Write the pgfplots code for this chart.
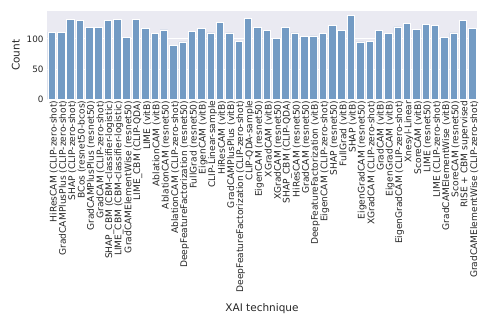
\documentclass[border=0pt]{standalone}
\usepackage{fontspec}
\setmainfont{DejaVu Sans}
\usepackage{pgfplots}
\pgfplotsset{compat=1.18}
\definecolor{barblue}{RGB}{115,155,196}
\definecolor{sbgrey}{HTML}{EAEAF2}

\begin{document}
\begin{tikzpicture}
\useasboundingbox (-47pt,-226.5pt) rectangle (441pt,99.5pt);
\begin{axis}[
  at={(0,0)}, anchor=south west,
  scale only axis, width=430pt, height=88.5pt,
  ybar, bar width=0.8, bar shift=0pt,
  xmin=-0.5, xmax=45.5, ymin=0, ymax=146,
  axis background/.style={fill=sbgrey},
  axis line style={draw=none},
  major tick length=0pt,
  ytick={0,50,100},
  ymajorgrids, grid style={white, line width=1pt},
  xtick={0,...,45},
  xticklabels={
    HiResCAM (CLIP-zero-shot),
    GradCAMPlusPlus (CLIP-zero-shot),
    SHAP (CLIP-zero-shot),
    BCos (resnet50-bcos),
    GradCAMPlusPlus (resnet50),
    GradCAM (CLIP-zero-shot),
    SHAP\_CBM (CBM-classifier-logistic),
    LIME\_CBM (CBM-classifier-logistic),
    GradCAMElementWise (resnet50),
    LIME\_CBM (CLIP-QDA),
    LIME (vitB),
    AblationCAM (vitB),
    AblationCAM (resnet50),
    AblationCAM (CLIP-zero-shot),
    DeepFeatureFactorization (resnet50),
    FullGrad (resnet50),
    EigenCAM (vitB),
    CLIP-Linear-sample,
    HiResCAM (vitB),
    GradCAMPlusPlus (vitB),
    DeepFeatureFactorization (CLIP-zero-shot),
    CLIP-QDA-sample,
    EigenCAM (resnet50),
    XGradCAM (vitB),
    XGradCAM (resnet50),
    SHAP\_CBM (CLIP-QDA),
    HiResCAM (resnet50),
    GradCAM (resnet50),
    DeepFeatureFactorization (vitB),
    EigenCAM (CLIP-zero-shot),
    SHAP (resnet50),
    FullGrad (vitB),
    SHAP (vitB),
    EigenGradCAM (resnet50),
    XGradCAM (CLIP-zero-shot),
    GradCAM (vitB),
    EigenGradCAM (vitB),
    EigenGradCAM (CLIP-zero-shot),
    Xnesyl-Linear,
    ScoreCAM (vitB),
    LIME (resnet50),
    LIME (CLIP-zero-shot),
    GradCAMElementWise (vitB),
    ScoreCAM (resnet50),
    RISE + CBM supervised,
    GradCAMElementWise (CLIP-zero-shot)},
  xticklabel style={rotate=90, anchor=east, font=\fontsize{9.1}{10}\selectfont, color=black!85, inner sep=1pt},
  x tick label style={yshift=-2pt},
  yticklabel style={font=\fontsize{8.8}{10}\selectfont, color=black!85},
  /pgf/number format/assume math mode=true,
  ylabel={Count}, ylabel style={font=\fontsize{10.5}{12}\selectfont, color=black!85},
  xlabel={XAI technique}, xlabel style={font=\fontsize{10.5}{12}\selectfont, color=black!85, yshift=-6pt},
]
\addplot[fill=barblue, draw=white, line width=0.5pt] coordinates {
(0,111) (1,111) (2,132) (3,131) (4,119) (5,119) (6,130) (7,132) (8,103) (9,132)
(10,117) (11,109) (12,115) (13,89) (14,95) (15,112) (16,117) (17,110) (18,127) (19,110)
(20,96) (21,134) (22,119) (23,114) (24,101) (25,119) (26,110) (27,104) (28,105) (29,109)
(30,122) (31,114) (32,139) (33,95) (34,96) (35,114) (36,109) (37,120) (38,125) (39,116)
(40,124) (41,122) (42,103) (43,110) (44,130) (45,117)};
\end{axis}
\end{tikzpicture}
\end{document}
